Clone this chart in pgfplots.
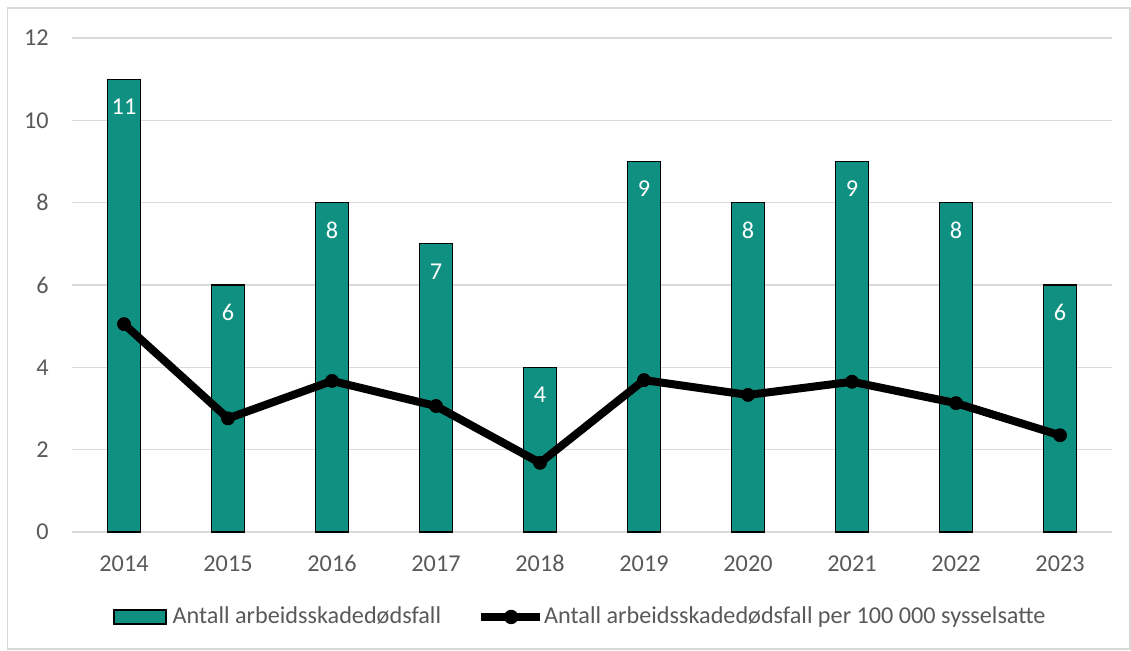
\documentclass[border=0pt]{standalone}
\usepackage{fontspec}
\setmainfont{Carlito}
\usepackage{pgfplots}
\pgfplotsset{compat=1.18}
\definecolor{barteal}{RGB}{16,144,129}
\definecolor{gridgray}{RGB}{217,217,217}
\definecolor{txtgray}{RGB}{89,89,89}
\begin{document}
\begin{tikzpicture}
\path[use as bounding box] (-36pt,-59pt) rectangle (529.5pt,266pt);
\draw[gridgray, line width=0.9pt] (-32.25pt,-58.6pt) rectangle (529pt,262pt);
\begin{axis}[
  at={(0pt,0pt)}, anchor=south west,
  scale only axis, width=520pt, height=247pt,
  xmin=-0.5, xmax=9.5, ymin=0, ymax=12,
  xtick={0,...,9},
  xticklabels={2014,2015,2016,2017,2018,2019,2020,2021,2022,2023},
  ytick={0,2,...,12},
  axis line style={draw=none},
  major tick length=0pt,
  ymajorgrids, grid style={gridgray, line width=0.8pt},
  font=\fontsize{12.1}{14}\selectfont,
  tick label style={text=txtgray, inner sep=0pt},
  /pgf/number format/assume math mode=true,
  yticklabel style={anchor=east, xshift=-11.5pt},
  xticklabel style={anchor=north, yshift=-11.5pt},
  legend columns=2,
  legend style={draw=none, fill=none, inner sep=0pt, at={(0.0394,-0.172)}, anchor=west,
    nodes={inner sep=0pt, text=txtgray, anchor=west},
    /tikz/column 2/.style={column sep=18pt},
    font=\fontsize{12.1}{14}\selectfont},
]
\addplot[ybar, bar width=16.5pt, fill=barteal, draw=black, line width=0.6pt,
  nodes near coords,
  every node near coord/.append style={anchor=center, yshift=-13.75pt, text=white, inner sep=0pt, font=\fontsize{12.1}{14}\selectfont},
  legend image code/.code={\draw[fill=barteal, draw=black, line width=0.7pt] (0pt,-3.5pt) rectangle (26pt,3.5pt); \path (29pt,0pt);}
] coordinates {(0,11) (1,6) (2,8) (3,7) (4,4) (5,9) (6,8) (7,9) (8,8) (9,6)};
\addlegendentry{Antall arbeidsskadedødsfall}
\addplot[black, line width=4pt, mark=*, mark size=3.3pt, mark options={line width=0.3pt},
  legend image code/.code={\draw[black, line width=4pt] (0pt,0pt) -- (29.5pt,0pt); \path[fill=black, draw=none] (15pt,0pt) circle (3.6pt);}
] coordinates {(0,5.05) (1,2.76) (2,3.67) (3,3.06) (4,1.68) (5,3.69) (6,3.33) (7,3.65) (8,3.13) (9,2.35)};
\addlegendentry{Antall arbeidsskadedødsfall per 100 000 sysselsatte}
\end{axis}
\end{tikzpicture}
\end{document}
